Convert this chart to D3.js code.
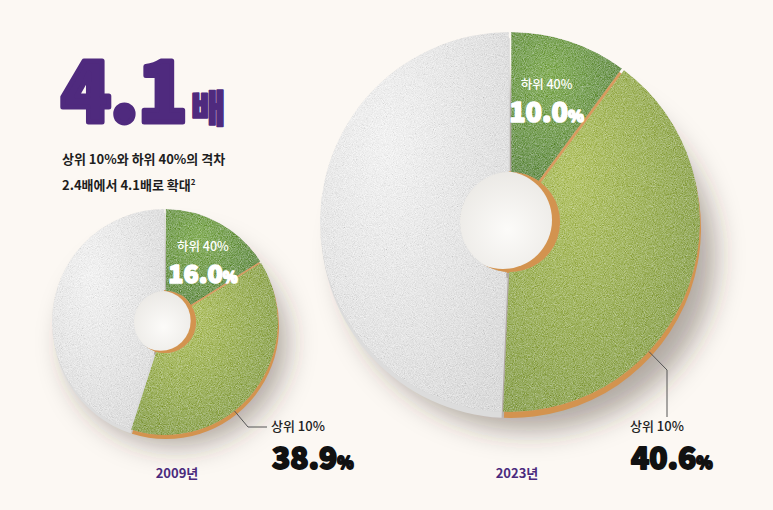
<!DOCTYPE html>
<html>
<head>
<meta charset="utf-8">
<script src="https://cdn.jsdelivr.net/npm/d3@7"></script>
<style>
  html, body { margin: 0; padding: 0; background: #fcf8f3; }
  text { font-family: "Noto Sans CJK KR", "Noto Sans", sans-serif; }
</style>
</head>
<body>
<div id="chart"></div>
<script>
// data
const years = ["2009년", "2023년"];
const groupNames = ["하위 40%", "상위 10%"];
const lower40 = [16.0, 10.0];
const upper10 = [38.9, 40.6];
const middle50 = [45.1, 49.4];
const headline = "4.1";
const headlineUnit = "배";
const subtitle = ["상위 10%와 하위 40%의 격차", "2.4배에서 4.1배로 확대"];

const width = 773, height = 510;

// layout of each donut (positions only)
const layout = [
  { cx: 165, cy: 322, R: 113, r: 31, depth: 4, valSize: 25, outSize: 30,
    nameDx: 3, nameDy: -8, valDy: 24,
    leadAngle: 142, elbow: [248, 427], end: [267, 427],
    outX: 271, outY: 431, outValY: 469, yearX: 177 },
  { cx: 510, cy: 222, R: 190, r: 50, depth: 6, valSize: 27, outSize: 30,
    nameDx: -1, nameDy: -19, valDy: 14,
    leadAngle: 133, elbow: [667, 370], end: [667, 417],
    outX: 630, outY: 431, outValY: 469, yearX: 517 }
];

const svg = d3.select("#chart").append("svg")
    .attr("width", width)
    .attr("height", height)
    .style("background", "#fcf8f3");

const defs = svg.append("defs");

// fine sugar / matcha grain texture, mixed softly over the face colour
const grain = defs.append("filter").attr("id", "grain")
    .attr("x", "0%").attr("y", "0%").attr("width", "100%").attr("height", "100%");
grain.append("feTurbulence").attr("type", "fractalNoise")
    .attr("baseFrequency", 1.1).attr("numOctaves", 2).attr("seed", 4).attr("result", "noise");
grain.append("feColorMatrix").attr("in", "noise").attr("type", "matrix")
    .attr("values", "0.33 0.33 0.33 0 0  0.33 0.33 0.33 0 0  0.33 0.33 0.33 0 0  0 0 0 0 1")
    .attr("result", "gray");
const ct = grain.append("feComponentTransfer").attr("in", "gray").attr("result", "contrast");
["feFuncR", "feFuncG", "feFuncB"].forEach(f =>
    ct.append(f).attr("type", "linear").attr("slope", 1.8).attr("intercept", -0.4));
grain.append("feBlend").attr("in", "SourceGraphic").attr("in2", "contrast")
    .attr("mode", "soft-light").attr("result", "blend");
grain.append("feComposite").attr("in", "blend").attr("in2", "SourceGraphic")
    .attr("operator", "arithmetic").attr("k1", 0).attr("k2", 0.4).attr("k3", 0.6).attr("k4", 0)
    .attr("result", "mix");
grain.append("feComposite").attr("in", "mix").attr("in2", "SourceGraphic").attr("operator", "in");

const blur = defs.append("filter").attr("id", "shadowBlur")
    .attr("x", "-30%").attr("y", "-30%").attr("width", "160%").attr("height", "160%");
blur.append("feGaussianBlur").attr("stdDeviation", 14);

// face gradients
const faceColors = {
  lower: ["#78ae2a", "#4f861a"],
  upper: ["#b4c848", "#819f24"],
  rest:  ["#ffffff", "#e4e4e4"]
};
Object.entries(faceColors).forEach(([k, c]) => {
  const g = defs.append("radialGradient").attr("id", "face-" + k)
      .attr("cx", "35%").attr("cy", "30%").attr("r", "85%");
  g.append("stop").attr("offset", "0%").attr("stop-color", c[0]);
  g.append("stop").attr("offset", "100%").attr("stop-color", c[1]);
});
const sideColors = { lower: "#d99b5e", upper: "#d3934f", rest: "#dcdcdc" };

const holeGrad = defs.append("radialGradient").attr("id", "hole")
    .attr("cx", "55%").attr("cy", "60%").attr("r", "60%");
holeGrad.append("stop").attr("offset", "0%").attr("stop-color", "#fcfbf9");
holeGrad.append("stop").attr("offset", "100%").attr("stop-color", "#ebe9e5");

const pie = d3.pie().sort(null).value(d => d.v).padAngle(0.012);

function drawDonut(i) {
  const L = layout[i];
  const data = [
    { key: "lower", v: lower40[i] },
    { key: "upper", v: upper10[i] },
    { key: "rest", v: middle50[i] }
  ];
  const arcs = pie(data);
  const arc = d3.arc().innerRadius(L.r).outerRadius(L.R);

  const g = svg.append("g").attr("transform", `translate(${L.cx},${L.cy})`);

  // shadow
  g.append("ellipse")
      .attr("cx", L.R * 0.1).attr("cy", L.R * 0.18)
      .attr("rx", L.R * 0.98).attr("ry", L.R * 0.92)
      .attr("fill", "rgba(60,50,40,0.4)")
      .attr("filter", "url(#shadowBlur)");

  // side (thickness)
  g.append("g").attr("transform", `translate(1,${L.depth})`)
    .selectAll("path").data(arcs).join("path")
      .attr("d", arc)
      .attr("fill", d => sideColors[d.data.key]);

  // inner crust seen through the hole (right side), then the hole itself
  g.append("circle").attr("r", L.r + 1).attr("fill", "#d3934f");
  g.append("circle")
      .attr("cx", -L.r * 0.14).attr("cy", -L.r * 0.04)
      .attr("r", L.r - 1)
      .attr("fill", "url(#hole)");

  // top faces
  g.append("g").attr("filter", "url(#grain)")
    .selectAll("path").data(arcs).join("path")
      .attr("d", arc)
      .attr("fill", d => `url(#face-${d.data.key})`);

  // lower 40% label inside slice
  const c = arc.centroid(arcs[0]);
  g.append("text")
      .attr("x", c[0] + L.nameDx).attr("y", c[1] + L.nameDy)
      .attr("text-anchor", "middle")
      .attr("fill", "#ffffff")
      .attr("font-size", 12.5)
      .attr("font-weight", 500)
      .text(groupNames[0]);
  const v0 = g.append("text")
      .attr("x", c[0] + L.nameDx).attr("y", c[1] + L.valDy)
      .attr("text-anchor", "middle")
      .attr("fill", "#ffffff")
      .attr("stroke", "#ffffff")
      .attr("stroke-width", 1.6)
      .attr("stroke-linejoin", "round")
      .attr("font-size", L.valSize)
      .attr("font-weight", 900);
  v0.append("tspan").text(lower40[i].toFixed(1));
  v0.append("tspan").attr("font-size", L.valSize * 0.6).text("%");

  // upper 10% leader and label
  const a = L.leadAngle * Math.PI / 180;
  const p0 = [L.cx + L.R * Math.sin(a), L.cy - L.R * Math.cos(a)];
  svg.append("polyline")
      .attr("points", [p0, L.elbow, L.end].map(p => p.join(",")).join(" "))
      .attr("fill", "none")
      .attr("stroke", "#555")
      .attr("stroke-width", 1);

  svg.append("text")
      .attr("x", L.outX).attr("y", L.outY)
      .attr("fill", "#222")
      .attr("font-size", 13)
      .attr("font-weight", 500)
      .text(groupNames[1]);
  const v1 = svg.append("text")
      .attr("x", L.outX + 1).attr("y", L.outValY)
      .attr("fill", "#111")
      .attr("stroke", "#111")
      .attr("stroke-width", 1.8)
      .attr("stroke-linejoin", "round")
      .attr("font-size", L.outSize)
      .attr("font-weight", 900);
  v1.append("tspan").text(upper10[i].toFixed(1));
  v1.append("tspan").attr("font-size", L.outSize * 0.55).text("%");

  // year label
  svg.append("text")
      .attr("x", L.yearX).attr("y", 478)
      .attr("text-anchor", "middle")
      .attr("fill", "#4b2a7d")
      .attr("font-size", 13)
      .attr("font-weight", 700)
      .text(years[i]);
}

// big donut first so the small one sits on top of its shadow
drawDonut(1);
drawDonut(0);

// headline
const head = svg.append("text")
    .attr("x", 61).attr("y", 122)
    .attr("fill", "#4f2a7e")
    .attr("stroke", "#4f2a7e")
    .attr("stroke-linejoin", "round")
    .attr("font-weight", 900);
head.append("tspan").attr("font-size", 82).attr("stroke-width", 5).attr("letter-spacing", -1).text(headline);
head.append("tspan").attr("font-size", 38).attr("stroke-width", 1.5).attr("dx", 4).text(headlineUnit);

svg.append("text")
    .attr("x", 62).attr("y", 164)
    .attr("fill", "#1e1e1e")
    .attr("font-size", 13)
    .attr("font-weight", 700)
    .text(subtitle[0]);
const sub2 = svg.append("text")
    .attr("x", 62).attr("y", 190)
    .attr("fill", "#1e1e1e")
    .attr("font-size", 13)
    .attr("font-weight", 700);
sub2.append("tspan").text(subtitle[1]);
sub2.append("tspan").attr("font-size", 8).attr("dy", -5).text("2");
</script>
</body>
</html>
